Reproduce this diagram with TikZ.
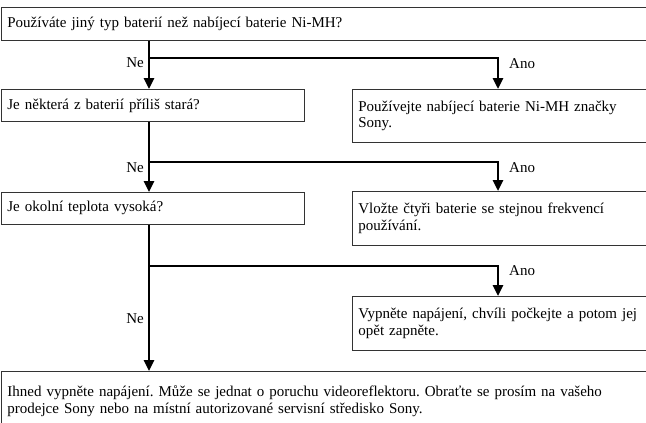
\documentclass[tikz,border=0pt]{standalone}
\usepackage{fontspec}
\setmainfont{Liberation Serif}
\usetikzlibrary{arrows.meta,positioning,calc}

\tikzset{
  box/.style={draw=black!80, line width=0.8pt, anchor=north west, align=left,
    inner xsep=6pt, inner ysep=2pt, font=\fontsize{15}{16.5}\selectfont\frenchspacing},
  flow/.style={line width=2.6pt, -{Triangle[width=10pt,length=11pt]}},
  lbl/.style={font=\fontsize{15}{16}\selectfont, inner sep=1pt}
}

\begin{document}
\begin{tikzpicture}[x=1pt,y=-1pt]
  \useasboundingbox (0,0) rectangle (646,423);

  % questions on the left
  \node[box, minimum width=649, minimum height=33, text width=637] (q1) at (1,7)
    {Používáte jiný typ baterií než nabíjecí baterie Ni-MH?};
  \node[box, minimum width=303, minimum height=32, text width=291] (q2) at (1,89)
    {Je některá z baterií příliš stará?};
  \node[box, minimum width=303, minimum height=32, text width=291] (q3) at (1,192)
    {Je okolní teplota vysoká?};
  \node[box, minimum width=649, minimum height=60, text width=637] (q4) at (1,371)
    {Ihned vypněte napájení. Může se jednat o poruchu videoreflektoru. Obraťte se prosím na vašeho\\
     prodejce Sony nebo na místní autorizované servisní středisko Sony.};

  % answers on the right
  \node[box, minimum width=298, minimum height=53, text width=286] (a1) at (352,89)
    {Používejte nabíjecí baterie Ni-MH značky\\ Sony.};
  \node[box, minimum width=298, minimum height=54, text width=286] (a2) at (352,191)
    {Vložte čtyři baterie se stejnou frekvencí\\ používání.};
  \node[box, minimum width=298, minimum height=54, text width=286] (a3) at (352,296)
    {Vypněte napájení, chvíli počkejte a potom jej\\ opět zapněte.};

  % branch points
  \coordinate (j1) at (149,58);
  \coordinate (j2) at (149,162);
  \coordinate (j3) at (149,266);
  \coordinate (k1) at (498,58);

  \draw[flow] (q1.south -| j1) -- (q2.north -| j1);
  \draw[flow] (q2.south -| j2) -- (q3.north -| j2);
  \draw[flow] (q3.south -| j3) -- (q4.north -| j3);
  \draw[flow] (j1) -| (a1.north -| k1);
  \draw[flow] (j2) -| (a2.north -| k1);
  \draw[flow] (j3) -| (a3.north -| k1);

  % labels
  \node[lbl, anchor=east] (ne1) at ([xshift=-4pt,yshift=-5pt]j1) {Ne};
  \node[lbl, anchor=east] (ne2) at ([xshift=-4pt,yshift=-6pt]j2) {Ne};
  \node[lbl, anchor=east] (ne3) at ([xshift=-4pt]$(j3)!0.5!(q4.north -| j3)$) {Ne};
  \node[lbl, anchor=west] (ano1) at ([xshift=10pt,yshift=-6pt]k1) {Ano};
  \node[lbl, anchor=west] (ano2) at ([xshift=10pt,yshift=-6pt]k1 |- j2) {Ano};
  \node[lbl, anchor=west] (ano3) at ([xshift=10pt,yshift=-5pt]k1 |- j3) {Ano};
\end{tikzpicture}
\end{document}
